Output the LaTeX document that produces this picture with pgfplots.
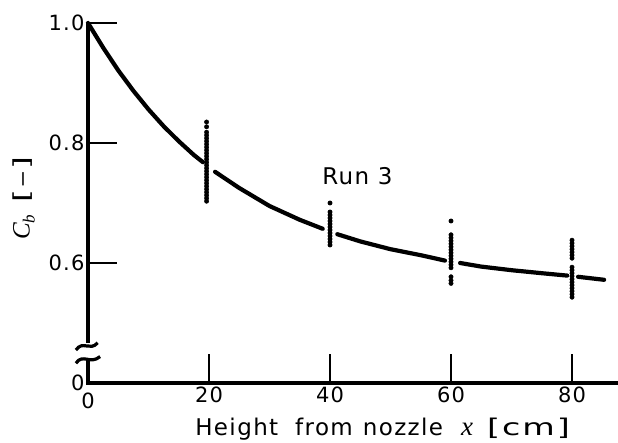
\documentclass[border=0pt]{standalone}
\usepackage{fontspec}
\setmainfont{DejaVu Sans}[LetterSpace=6]
\newfontfamily\serit{Liberation Serif Italic}
\usepackage{graphicx}
\usepackage{pgfplots}
\pgfplotsset{compat=1.18}
\begin{document}
\begin{tikzpicture}
\begin{axis}[name=ax, scale only axis, width=530pt, height=360pt,
  xmin=0, xmax=87.6, ymin=0.4, ymax=1.0,
  axis x line=bottom, axis y line=left,
  x axis line style={line width=4.5pt,-},
  y axis line style={draw=none,-},
  xtick={20,40,60,80}, xticklabels={20,40,60,80},
  ytick={0.6,0.8,1.0}, yticklabels={0.6,0.8,1.0},
  extra x ticks={0}, extra x tick labels={0},
  extra y ticks={0.4}, extra y tick labels={0},
  extra x tick style={major tick length=0pt, tick label style={yshift=-6pt}},
  extra y tick style={major tick length=0pt},
  tick align=inside, major tick length=29pt,
  tick style={line width=2.5pt, black},
  tick label style={font=\fontsize{21}{23}\selectfont},
  clip=false]
% curve (interrupted at the data columns)
\addplot[black, line width=4.2pt, line cap=round] coordinates {
 (0,1.0) (2.5,0.959) (5,0.921) (7.5,0.887) (10,0.856) (12.5,0.828) (15,0.803) (17.5,0.780) (19,0.768)};
\addplot[black, line width=4.2pt, line cap=round] coordinates {
 (21,0.752) (25,0.725) (30,0.695) (35,0.672) (38.8,0.657)};
\addplot[black, line width=4.2pt, line cap=round] coordinates {
 (41.2,0.648) (45,0.636) (50,0.623) (55,0.613) (59,0.604)};
\addplot[black, line width=4.2pt, line cap=round] coordinates {
 (61.5,0.600) (65,0.594) (70,0.588) (75,0.583) (79.2,0.579)};
\addplot[black, line width=4.2pt, line cap=round] coordinates {
 (81,0.577) (85.3,0.572)};
% measured points
\addplot[only marks, mark=*, mark size=2.2pt, black] coordinates {
 (19.6,0.835) (19.6,0.827) (19.6,0.818) (19.6,0.813) (19.6,0.808) (19.6,0.803)
 (19.6,0.798) (19.6,0.793) (19.6,0.788) (19.6,0.783) (19.6,0.778) (19.6,0.773)
 (19.6,0.768) (19.6,0.763) (19.6,0.758) (19.6,0.753) (19.6,0.748) (19.6,0.743)
 (19.6,0.738) (19.6,0.733) (19.6,0.728) (19.6,0.723) (19.6,0.718) (19.6,0.713)
 (19.6,0.708) (19.6,0.703)};
\addplot[only marks, mark=*, mark size=2.2pt, black] coordinates {
 (40,0.700) (40,0.685) (40,0.680) (40,0.675) (40,0.670) (40,0.665) (40,0.660)
 (40,0.655) (40,0.650) (40,0.645) (40,0.640) (40,0.635) (40,0.630)};
\addplot[only marks, mark=*, mark size=2.2pt, black] coordinates {
 (60,0.670) (60,0.647) (60,0.642) (60,0.637) (60,0.632) (60,0.627) (60,0.622)
 (60,0.617) (60,0.612) (60,0.607) (60,0.602) (60,0.597) (60,0.592)
 (60,0.577) (60,0.571) (60,0.566)};
\addplot[only marks, mark=*, mark size=2.2pt, black] coordinates {
 (80,0.638) (80,0.633) (80,0.628) (80,0.623) (80,0.618) (80,0.613) (80,0.608)
 (80,0.593) (80,0.588) (80,0.583) (80,0.578) (80,0.573) (80,0.568) (80,0.563)
 (80,0.558) (80,0.553) (80,0.548) (80,0.543)};
% y axis with break
\draw[line width=4.5pt] (axis cs:0,1.0) -- (axis cs:0,0.467);
\draw[line width=3.2pt] (axis cs:-2,0.455) .. controls (axis cs:-0.8,0.472) and (axis cs:0.3,0.452) .. (axis cs:1.6,0.467);
\draw[line width=3.2pt] (axis cs:-2,0.433) .. controls (axis cs:-0.8,0.450) and (axis cs:0.3,0.430) .. (axis cs:2.0,0.444);
\draw[line width=4.5pt] (axis cs:0,0.439) -- (axis cs:0,0.396);
% texts
\node[anchor=base west, inner sep=0pt, font=\fontsize{23}{26}\selectfont] at (axis cs:38.7,0.73) {Run 3};
\node[anchor=base west, inner sep=0pt, font=\fontsize{23}{26}\selectfont] at (axis cs:17.7,0.312)
  {Height\hspace{17pt}from\hspace{10pt}nozzle\hspace{18pt}{\serit\fontsize{27}{28}\selectfont x}\hspace{14pt}\scalebox{1.45}[1]{[cm]}};
\node[rotate=90, font=\fontsize{22}{25}\selectfont] at (axis cs:-10.6,0.708)
  {{\serit\fontsize{25}{28}\selectfont C\raisebox{-5pt}{\fontsize{17}{18}\selectfont b}}\hspace{12pt}\scalebox{1.5}[1]{[--]}};
\end{axis}
\pgfresetboundingbox
\path ([shift={(-88pt,-60pt)}]ax.south west) rectangle ([shift={(0pt,23pt)}]ax.north east);
\end{tikzpicture}
\end{document}
